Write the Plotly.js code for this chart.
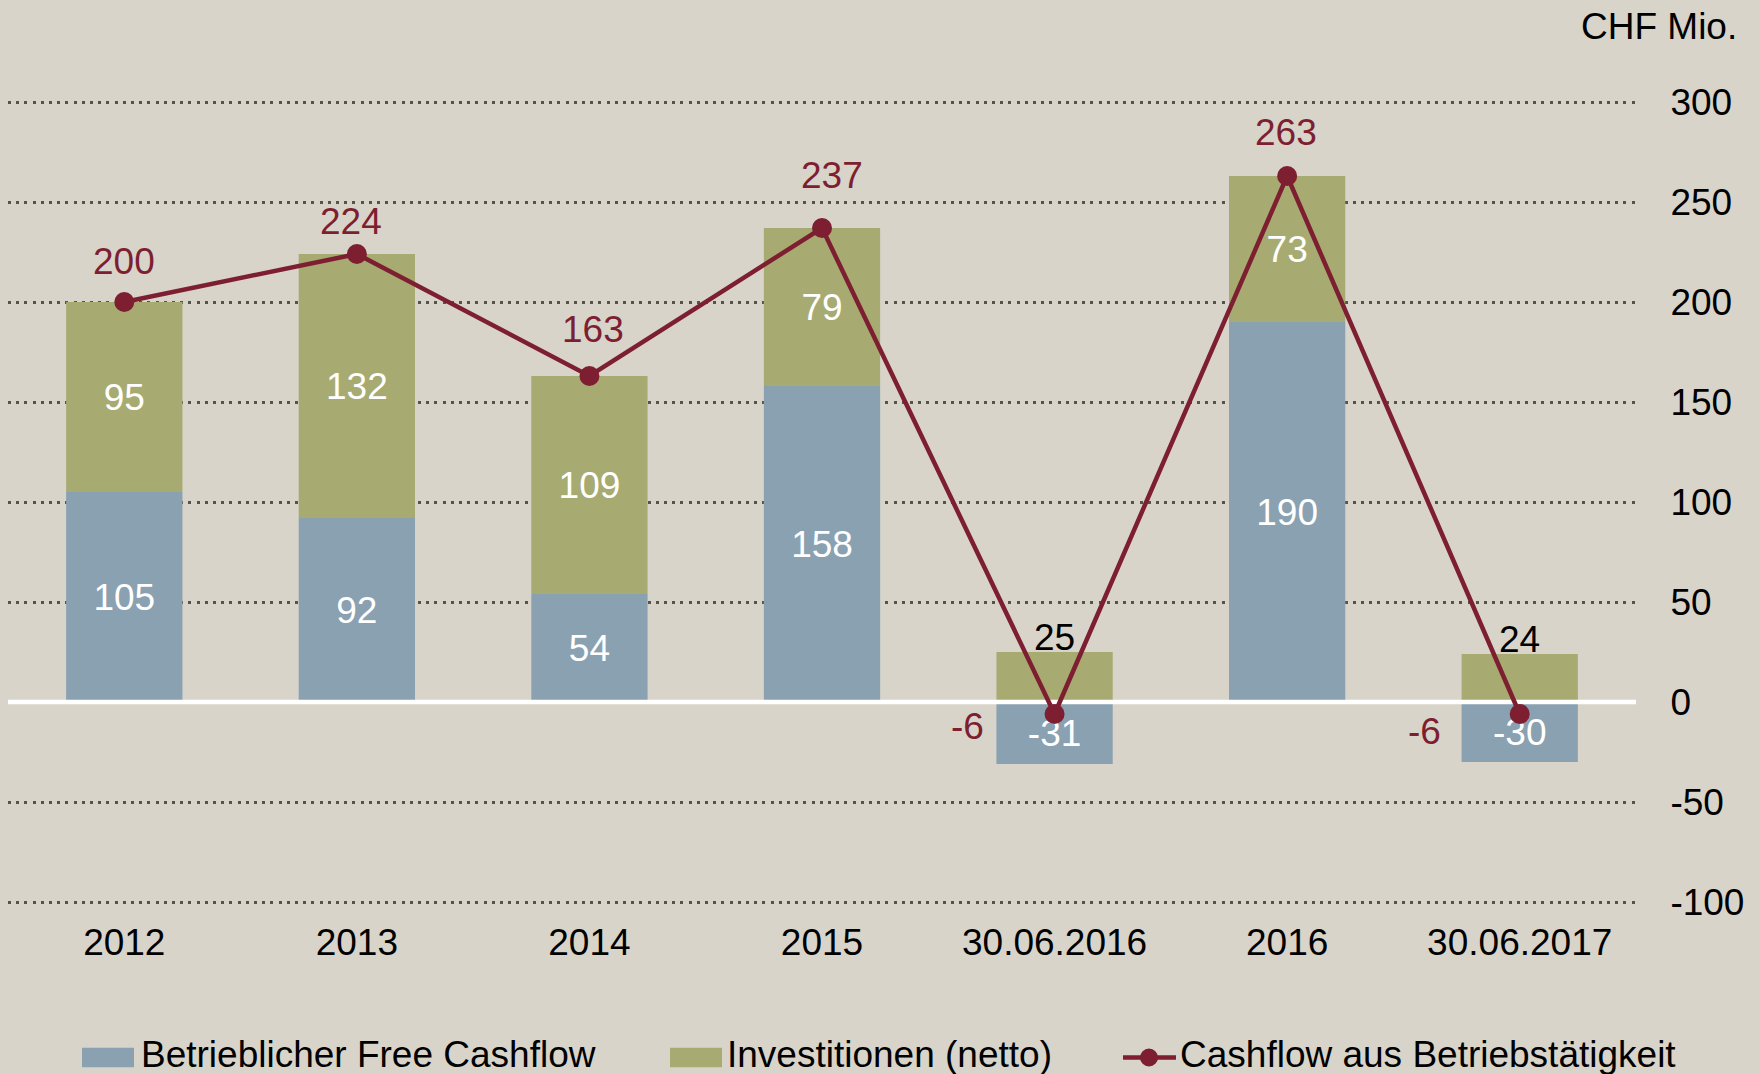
<!DOCTYPE html>
<html><head><meta charset="utf-8">
<script src="https://cdn.plot.ly/plotly-3.0.1.min.js"></script>
<style>html,body{margin:0;padding:0;background:#D8D4CA;}#chart{width:1760px;height:1074px;}</style>
</head><body><div id="chart"></div>
<script>
// ---- data ----
const categories = ['2012','2013','2014','2015','30.06.2016','2016','30.06.2017'];
const freeCashflow = [105, 92, 54, 158, -31, 190, -30];
const investitionen = [95, 132, 109, 79, 25, 73, 24];
const operativerCashflow = [200, 224, 163, 237, -6, 263, -6];
const yTicks = [-100, -50, 0, 50, 100, 150, 200, 250, 300];
const seriesNames = ['Betrieblicher Free Cashflow', 'Investitionen (netto)', 'Cashflow aus Betriebstätigkeit'];
const unitLabel = 'CHF Mio.';

// ---- style ----
const lineLabelDX = [0, -6, 4, 10, -87, -1, -95];
const lineLabelDY = [41, 33, 47, 53, -12, 44, -17];
const outsideLimit = 30;
const FONT = 'Liberation Sans, Arial, Helvetica, sans-serif';
const FS = 37;
const BG = '#D8D4CA', BLUE = '#8AA1B2', GREEN = '#A7AB72', RED = '#7D1F31', GRID = '#54544C';
const W = 1760, H = 1074, M = {l: 8, r: 124, t: 98, b: 168};
const YR = [-102, 302];
const PW = W - M.l - M.r, PH = H - M.t - M.b;
const px = x => (x - M.l) / PW, py = y => (H - M.b - y) / PH;
const idx = categories.map((c, i) => i);
const XR = [-0.5, categories.length - 0.5];
const isOutside = investitionen.map(v => v < outsideLimit);

const traces = [
  {
    type: 'bar', x: idx, y: freeCashflow, name: seriesNames[0],
    marker: {color: BLUE, line: {width: 0}},
    text: freeCashflow.map(String), textposition: 'inside', insidetextanchor: 'middle',
    textangle: 0, constraintext: 'none',
    insidetextfont: {family: FONT, size: FS, color: '#FFFFFF'},
    hoverinfo: 'skip', showlegend: false
  },
  {
    type: 'bar', x: idx, y: investitionen, name: seriesNames[1],
    marker: {color: GREEN, line: {width: 0}},
    text: investitionen.map(String),
    textposition: isOutside.map(o => o ? 'none' : 'inside'),
    insidetextanchor: 'middle', textangle: 0, constraintext: 'none',
    insidetextfont: {family: FONT, size: FS, color: '#FFFFFF'},
    hoverinfo: 'skip', showlegend: false
  },
  {
    type: 'scatter', mode: 'lines', x: XR, y: [0, 0],
    line: {color: '#FFFFFF', width: 4.5}, hoverinfo: 'skip', showlegend: false, cliponaxis: false
  },
  {
    type: 'scatter', mode: 'lines+markers', x: idx, y: operativerCashflow, name: seriesNames[2],
    line: {color: RED, width: 4.5}, marker: {color: RED, size: 20},
    cliponaxis: false, hoverinfo: 'skip', showlegend: false
  }
];

const annotations = operativerCashflow.map((v, i) => ({
  x: i, y: v, xref: 'x', yref: 'y', text: String(v), showarrow: false,
  xanchor: 'center', yanchor: 'middle', xshift: lineLabelDX[i], yshift: lineLabelDY[i],
  font: {family: FONT, size: FS, color: RED}
}));
// labels above short bars
investitionen.forEach((v, i) => {
  if (!isOutside[i]) return;
  const top = Math.max(0, freeCashflow[i]) + v;
  annotations.push({x: i, y: top, xref: 'x', yref: 'y', text: String(v), showarrow: false,
    xanchor: 'center', yanchor: 'bottom', yshift: -8,
    font: {family: FONT, size: FS, color: '#000000'}});
});
annotations.push({
  xref: 'paper', yref: 'paper', x: px(1739), y: py(26.5), xanchor: 'right', yanchor: 'middle',
  text: unitLabel, showarrow: false, font: {family: FONT, size: FS, color: '#000000'}
});

// legend (manual, to match swatch sizes)
const legendY = 1057.5;
const legendItems = [
  {sx: 82, tx: 139, color: BLUE, kind: 'box', name: seriesNames[0]},
  {sx: 670, tx: 725, color: GREEN, kind: 'box', name: seriesNames[1]},
  {sx: 1123, tx: 1178, color: RED, kind: 'line', name: seriesNames[2]}
];
const shapes = [];
legendItems.forEach(it => {
  if (it.kind === 'box') {
    shapes.push({type: 'rect', xref: 'paper', yref: 'paper', x0: px(it.sx), x1: px(it.sx + 52),
      y0: py(legendY - 9.75), y1: py(legendY + 9.75), fillcolor: it.color, line: {width: 0}});
  } else {
    shapes.push({type: 'line', xref: 'paper', yref: 'paper', x0: px(it.sx), x1: px(it.sx + 53),
      y0: py(legendY), y1: py(legendY), line: {color: it.color, width: 4.5}});
    shapes.push({type: 'circle', xref: 'paper', yref: 'paper', xsizemode: 'pixel', ysizemode: 'pixel',
      xanchor: px(it.sx + 26), yanchor: py(legendY), x0: -9, x1: 9, y0: -9, y1: 9,
      fillcolor: it.color, line: {width: 0}});
  }
  annotations.push({xref: 'paper', yref: 'paper', x: px(it.tx), y: py(legendY - 3), xanchor: 'left', yanchor: 'middle',
    text: it.name, showarrow: false, font: {family: FONT, size: FS, color: '#000000'}});
});

const layout = {
  width: W, height: H, margin: M,
  paper_bgcolor: BG, plot_bgcolor: BG,
  barmode: 'relative', bargap: 0.5,
  showlegend: false,
  font: {family: FONT, size: FS, color: '#000000'},
  xaxis: {
    type: 'linear', range: XR, tickvals: idx, ticktext: categories,
    showgrid: false, zeroline: false, showline: false,
    ticks: 'outside', ticklen: 4, tickcolor: 'rgba(0,0,0,0)',
    tickfont: {family: FONT, size: FS, color: '#000000'}, fixedrange: true
  },
  yaxis: {
    side: 'right', range: YR, tickvals: yTicks, ticktext: yTicks.map(String),
    showgrid: true, gridcolor: GRID, gridwidth: 3, griddash: '3px,5.2px',
    zeroline: false, showline: false,
    ticks: 'outside', ticklen: 26, tickcolor: 'rgba(0,0,0,0)',
    tickfont: {family: FONT, size: FS, color: '#000000'}, fixedrange: true
  },
  annotations: annotations,
  shapes: shapes
};

Plotly.newPlot('chart', traces, layout, {displayModeBar: false, staticPlot: true});
</script>
</body></html>
